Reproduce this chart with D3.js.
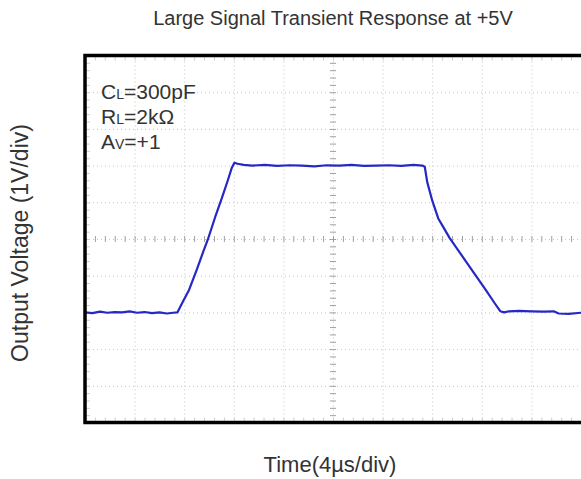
<!DOCTYPE html>
<html>
<head>
    <title>Large Signal Transient Response at +5V</title>
    <script src="https://d3js.org/d3.v7.min.js"></script>
    <style>
        body {
            margin: 0;
            background: #fff;
            font-family: Arial, "Liberation Sans", sans-serif;
        }
        .label { fill: #333; }
    </style>
</head>
<body>
    <div id="chart"></div>

    <script>
        // trace: time in us, output in V
        var timeUs = [0, 0.6, 1.2, 1.8, 2.4, 3.0, 3.6, 4.2, 4.8, 5.4, 6.0, 6.6, 7.1, 7.45,
            7.9, 8.4, 9.0, 9.5, 9.9, 10.5, 11.0, 11.5, 11.85, 12.05, 12.3, 12.8,
            13.5, 14.5, 15.5, 16.5, 17.5, 18.5, 19.5, 20.5, 21.5, 22.5, 23.5, 24.5, 25.5, 26.5, 27.2, 27.4,
            27.6, 28.0, 28.5, 28.85, 29.4, 30.0, 30.8, 31.6, 32.4, 33.0, 33.5, 33.8,
            34.2, 35.0, 36.0, 37.0, 37.8, 38.2, 39.0, 40.0];
        var voltsV = [0.50, 0.48, 0.52, 0.49, 0.51, 0.50, 0.53, 0.49, 0.51, 0.48, 0.50, 0.47, 0.49, 0.50,
            0.80, 1.12, 1.65, 2.12, 2.48, 3.10, 3.58, 4.08, 4.45, 4.58, 4.55, 4.52,
            4.50, 4.52, 4.49, 4.51, 4.50, 4.48, 4.51, 4.50, 4.52, 4.49, 4.50, 4.51, 4.49, 4.52, 4.50, 4.47,
            4.05, 3.55, 3.05, 2.85, 2.53, 2.24, 1.85, 1.46, 1.07, 0.77, 0.53, 0.50,
            0.53, 0.54, 0.53, 0.52, 0.53, 0.47, 0.46, 0.49];

        var timeDomain = [0, 40];     // 4us/div, 10 div
        var voltDomain = [-2.5, 7.5]; // 1V/div, 10 div

        const width = 581, height = 479;
        const box = {left: 85, top: 55.5, right: 581, bottom: 422.5};

        var svg = d3.select("#chart").append("svg")
            .attr("width", width)
            .attr("height", height);

        var x = d3.scaleLinear().domain(timeDomain).range([box.left, box.right]);
        var y = d3.scaleLinear().domain(voltDomain).range([box.bottom, box.top]);

        // dotted grid
        svg.append("g")
            .attr("transform", "translate(0," + box.bottom + ")")
            .call(d3.axisBottom(x).tickValues(d3.range(4, 40, 4)).tickSize(-(box.bottom - box.top)).tickFormat(""))
            .call(g => g.select(".domain").remove())
            .selectAll("line")
            .attr("stroke", "#c4c4c4")
            .attr("stroke-dasharray", "1,3");

        svg.append("g")
            .attr("transform", "translate(" + box.left + ",0)")
            .call(d3.axisLeft(y).tickValues(d3.range(-1.5, 7.5, 1)).tickSize(-(box.right - box.left)).tickFormat(""))
            .call(g => g.select(".domain").remove())
            .selectAll("line")
            .attr("stroke", "#c4c4c4")
            .attr("stroke-dasharray", "1,3");

        // minor ticks on the centre lines
        var xMinor = d3.range(0, 40.01, 0.8);
        var yMinor = d3.range(-2.5, 7.51, 0.2);

        svg.append("g")
            .attr("transform", "translate(0," + y(2.5) + ")")
            .call(d3.axisBottom(x).tickValues(xMinor).tickSize(3).tickFormat(""))
            .call(g => g.select(".domain").remove())
            .selectAll("line")
            .attr("y1", -3)
            .attr("stroke", "#a0a0a0");

        svg.append("g")
            .attr("transform", "translate(" + x(20) + ",0)")
            .call(d3.axisLeft(y).tickValues(yMinor).tickSize(3).tickFormat(""))
            .call(g => g.select(".domain").remove())
            .selectAll("line")
            .attr("x1", 3)
            .attr("stroke", "#a0a0a0");

        // faint minor ticks along the frame
        svg.append("g")
            .attr("transform", "translate(0," + box.bottom + ")")
            .call(d3.axisTop(x).tickValues(xMinor).tickSize(5).tickFormat(""))
            .call(g => g.select(".domain").remove())
            .selectAll("line").attr("stroke", "#cfcfcf");

        svg.append("g")
            .attr("transform", "translate(0," + box.top + ")")
            .call(d3.axisBottom(x).tickValues(xMinor).tickSize(5).tickFormat(""))
            .call(g => g.select(".domain").remove())
            .selectAll("line").attr("stroke", "#cfcfcf");

        svg.append("g")
            .attr("transform", "translate(" + box.left + ",0)")
            .call(d3.axisRight(y).tickValues(yMinor).tickSize(5).tickFormat(""))
            .call(g => g.select(".domain").remove())
            .selectAll("line").attr("stroke", "#cfcfcf");

        // trace
        var trace = timeUs.map((t, i) => ({t: t, v: voltsV[i]}));
        svg.append("path")
            .datum(trace)
            .attr("fill", "none")
            .attr("stroke", "#2528c4")
            .attr("stroke-width", 2.2)
            .attr("stroke-linejoin", "round")
            .attr("d", d3.line().x(d => x(d.t)).y(d => y(d.v)));

        // frame (right side runs off the picture)
        svg.append("rect")
            .attr("x", box.left)
            .attr("y", box.top)
            .attr("width", box.right - box.left + 6)
            .attr("height", box.bottom - box.top)
            .attr("fill", "none")
            .attr("stroke", "#000")
            .attr("stroke-width", 3.5);

        // titles
        svg.append("text")
            .attr("class", "label")
            .attr("x", 333)
            .attr("y", 25)
            .attr("text-anchor", "middle")
            .style("font-size", "20px")
            .text("Large Signal Transient Response at +5V");

        svg.append("text")
            .attr("class", "label")
            .attr("x", 330)
            .attr("y", 472)
            .attr("text-anchor", "middle")
            .style("font-size", "22px")
            .text("Time(4\u00b5s/div)");

        svg.append("text")
            .attr("class", "label")
            .attr("transform", "translate(28,243) rotate(-90)")
            .attr("text-anchor", "middle")
            .style("font-size", "23px")
            .text("Output Voltage (1V/div)");

        // conditions
        var notes = [["C", "L", "=300pF"], ["R", "L", "=2k\u03a9"], ["A", "V", "=+1"]];
        notes.forEach((n, i) => {
            var t = svg.append("text")
                .attr("class", "label")
                .attr("x", 101)
                .attr("y", 99 + i * 25)
                .style("font-size", "21px");
            t.append("tspan").text(n[0]);
            t.append("tspan").style("font-size", "14px").text(n[1]);
            t.append("tspan").text(n[2]);
        });
    </script>
</body>
</html>
